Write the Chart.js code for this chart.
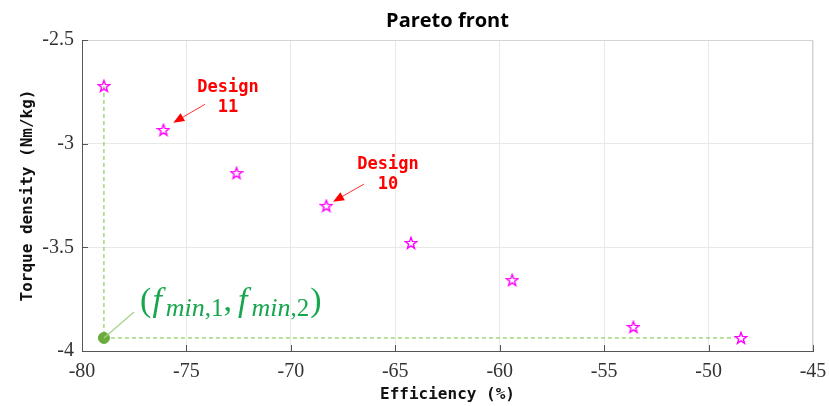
<!DOCTYPE html>
<html>
<head>
<meta charset="utf-8">
<script src="https://cdn.jsdelivr.net/npm/chart.js@4.4.0/dist/chart.umd.min.js"></script>
<style>
  html, body { margin: 0; padding: 0; background: #fff; }
  #wrap { width: 829px; height: 406px; }
</style>
</head>
<body>
<div id="wrap"><canvas id="chart"></canvas></div>
<script>
// Pareto designs
const efficiency = [-78.95, -76.1, -72.6, -68.3, -64.25, -59.4, -53.6, -48.45];
const torqueDensity = [-2.722, -2.934, -3.142, -3.30, -3.479, -3.658, -3.884, -3.937];
const xTicks = [-80, -75, -70, -65, -60, -55, -50, -45];
const yTicks = [-4, -3.5, -3, -2.5];

// ideal point = min of each objective
const fMin1 = Math.min(...efficiency);
const fMin2 = Math.min(...torqueDensity);

// callouts, in data units
const callouts = [
  {lines: ["Design", "11"], x: -73.01, y: -2.777, from: [-74.11, -2.810], to: [-75.63, -2.899]},
  {lines: ["Design", "10"], x: -65.35, y: -3.149, from: [-66.50, -3.195], to: [-67.98, -3.280]},
];
const idealLabel = {x: -77.22, y: -3.807, lineEnd: [-77.51, -3.812]};

const GREEN = "#74c03e";

// MATLAB style pentagram outline
function makeStar() {
  const c = document.createElement("canvas");
  c.width = 14; c.height = 14;
  const g = c.getContext("2d");
  g.strokeStyle = "#ff00ff";
  g.lineWidth = 1.4;
  g.beginPath();
  for (let i = 0; i < 10; i++) {
    const r = i % 2 === 0 ? 6 : 2.5;
    const a = -Math.PI / 2 + i * Math.PI / 5;
    const px = 7 + r * Math.cos(a), py = 7.4 + r * Math.sin(a);
    if (i === 0) g.moveTo(px, py); else g.lineTo(px, py);
  }
  g.closePath();
  g.stroke();
  return c;
}

const extras = {
  id: "extras",
  afterDraw(chart) {
    const {ctx, chartArea: a, scales: {x, y}} = chart;
    ctx.save();
    // title, centred on the axes
    ctx.fillStyle = "#000";
    ctx.font = "bold 20px 'Open Sans'";
    ctx.textAlign = "center";
    ctx.textBaseline = "middle";
    ctx.fillText("Pareto front", (a.left + a.right) / 2, 21);

    // box
    ctx.strokeStyle = "#d4d4d4";
    ctx.lineWidth = 1;
    ctx.beginPath();
    ctx.moveTo(a.left, a.top + 0.5); ctx.lineTo(a.right - 0.5, a.top + 0.5); ctx.lineTo(a.right - 0.5, a.bottom);
    ctx.stroke();
    // inner ticks
    ctx.strokeStyle = "#555";
    ctx.beginPath();
    xTicks.forEach(v => {
      const px = Math.round(x.getPixelForValue(v)) + 0.5;
      ctx.moveTo(px, a.bottom); ctx.lineTo(px, a.bottom - 6);
    });
    yTicks.forEach(v => {
      const py = Math.round(y.getPixelForValue(v)) + 0.5;
      ctx.moveTo(a.left, py); ctx.lineTo(a.left + 6, py);
    });
    ctx.stroke();

    // callouts
    ctx.font = "bold 17px 'DejaVu Sans Mono'";
    callouts.forEach(c => {
      const cx = x.getPixelForValue(c.x), cy = y.getPixelForValue(c.y);
      ctx.fillStyle = "#ff0000";
      ctx.fillText(c.lines[0], cx, cy - 10);
      ctx.fillText(c.lines[1], cx, cy + 10);
      const x0 = x.getPixelForValue(c.from[0]), y0 = y.getPixelForValue(c.from[1]);
      const x1 = x.getPixelForValue(c.to[0]), y1 = y.getPixelForValue(c.to[1]);
      const ang = Math.atan2(y1 - y0, x1 - x0);
      ctx.strokeStyle = "#ff3030";
      ctx.lineWidth = 1;
      ctx.beginPath();
      ctx.moveTo(x0, y0); ctx.lineTo(x1 - 8 * Math.cos(ang), y1 - 8 * Math.sin(ang));
      ctx.stroke();
      ctx.beginPath();
      ctx.moveTo(x1, y1);
      ctx.lineTo(x1 - 11 * Math.cos(ang) + 4.5 * Math.sin(ang), y1 - 11 * Math.sin(ang) - 4.5 * Math.cos(ang));
      ctx.lineTo(x1 - 11 * Math.cos(ang) - 4.5 * Math.sin(ang), y1 - 11 * Math.sin(ang) + 4.5 * Math.cos(ang));
      ctx.closePath();
      ctx.fill();
    });

    // ideal point label
    const dx = x.getPixelForValue(fMin1), dy = y.getPixelForValue(fMin2);
    ctx.strokeStyle = "#a5d184";
    ctx.lineWidth = 1.2;
    ctx.beginPath();
    ctx.moveTo(dx, dy);
    ctx.lineTo(x.getPixelForValue(idealLabel.lineEnd[0]), y.getPixelForValue(idealLabel.lineEnd[1]));
    ctx.stroke();

    const runs = [
      {t: "(", f: "34px 'Liberation Serif'", d: 0, g: 1},
      {t: "f", f: "italic 34px 'Liberation Serif'", d: 0, g: 4},
      {t: "min", f: "italic 26px 'Liberation Serif'", d: 5, g: 0},
      {t: ",1", f: "25px 'Liberation Serif'", d: 5, g: 0},
      {t: ",", f: "34px 'Liberation Serif'", d: 0, g: 6},
      {t: "f", f: "italic 34px 'Liberation Serif'", d: 0, g: 4},
      {t: "min", f: "italic 26px 'Liberation Serif'", d: 5, g: 0},
      {t: ",2", f: "25px 'Liberation Serif'", d: 5, g: 1},
      {t: ")", f: "34px 'Liberation Serif'", d: 0, g: 0},
    ];
    let lx = x.getPixelForValue(idealLabel.x);
    const ly = y.getPixelForValue(idealLabel.y);
    ctx.fillStyle = "#17a64e";
    ctx.textAlign = "left";
    ctx.textBaseline = "alphabetic";
    runs.forEach(r => {
      ctx.font = r.f;
      ctx.fillText(r.t, lx, ly + r.d);
      lx += ctx.measureText(r.t).width + r.g;
    });
    ctx.restore();
  }
};

const tickFont = {family: "'Liberation Serif'", size: 20};
const titleFont = {family: "'DejaVu Sans Mono'", size: 16, weight: "bold"};

new Chart(document.getElementById("chart"), {
  type: "scatter",
  data: {
    datasets: [
      {
        label: "Pareto designs",
        data: efficiency.map((v, i) => ({x: v, y: torqueDensity[i]})),
        pointStyle: makeStar(),
        pointRadius: 6,
        order: 0,
      },
      {
        label: "ideal",
        data: [{x: fMin1, y: fMin2}],
        pointRadius: 5.5,
        pointBackgroundColor: "#6aac3b",
        pointBorderColor: "#6aac3b",
        order: 1,
      },
      {
        label: "vertical",
        data: [{x: fMin1, y: torqueDensity[efficiency.indexOf(fMin1)]}, {x: fMin1, y: fMin2}],
        showLine: true,
        borderColor: GREEN,
        borderWidth: 1,
        borderDash: [4, 3],
        pointRadius: 0,
        order: 2,
      },
      {
        label: "horizontal",
        data: [{x: fMin1, y: fMin2}, {x: efficiency[torqueDensity.indexOf(fMin2)] - 0.3, y: fMin2}],
        showLine: true,
        borderColor: GREEN,
        borderWidth: 1,
        borderDash: [4, 3],
        pointRadius: 0,
        order: 2,
      },
    ],
  },
  options: {
    responsive: true,
    maintainAspectRatio: false,
    animation: false,
    layout: {padding: {left: 0, right: 16, top: 40, bottom: 0}},
    plugins: {
      legend: {display: false},
      tooltip: {enabled: false},
      title: {display: false},
    },
    scales: {
      x: {
        type: "linear",
        min: -80,
        max: -45,
        afterFit: s => { s.height = 55; s.paddingLeft = 0; s.paddingRight = 0; },
        afterBuildTicks: s => { s.ticks = xTicks.map(v => ({value: v})); },
        ticks: {font: tickFont, color: "#333", padding: 9, callback: v => String(v)},
        grid: {color: "#e8e8e8", drawTicks: false},
        border: {display: true, color: "#555", width: 1},
        title: {display: true, text: "Efficiency (%)", font: titleFont, color: "#111", padding: {top: 0, bottom: 2}},
      },
      y: {
        type: "linear",
        min: -4,
        max: -2.5,
        afterFit: s => { s.width = 82; s.paddingTop = 0; s.paddingBottom = 0; },
        afterBuildTicks: s => { s.ticks = yTicks.map(v => ({value: v})); },
        ticks: {font: tickFont, color: "#333", padding: 8, callback: v => String(v)},
        grid: {color: "#e8e8e8", drawTicks: false},
        border: {display: true, color: "#555", width: 1},
        title: {display: true, text: "Torque density (Nm/kg)", font: titleFont, color: "#111", padding: {top: 18, bottom: 0}},
      },
    },
  },
  plugins: [extras],
});
</script>
</body>
</html>
